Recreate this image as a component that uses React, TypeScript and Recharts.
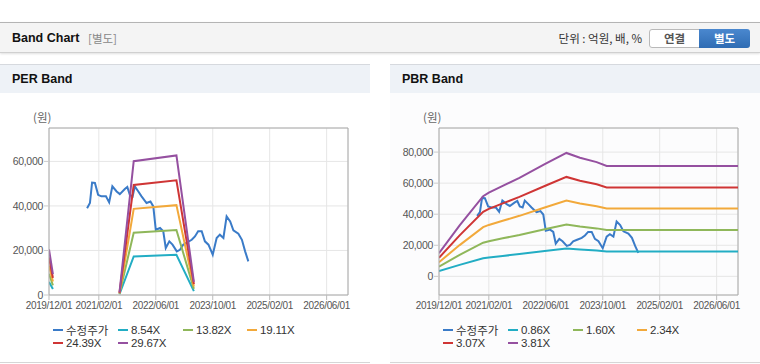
import React from 'react';
import { LineChart, Line, XAxis, YAxis, CartesianGrid, ReferenceLine } from 'recharts';

// ---------- data ----------
const xTickMonths = [0, 14, 30, 46, 62, 78];
const xTickLabels = ['2019/12/01', '2021/02/01', '2022/06/01', '2023/10/01', '2025/02/01', '2026/06/01'];

// month index since 2019/12
const priceMonths = [10.7, 11.5, 12.1, 12.9, 13.8, 14.7, 16.0, 16.9, 17.8, 19.0, 19.9, 21.3, 22.0, 22.7, 23.5, 24.1, 25.1, 26.0, 27.4, 28.5, 29.3, 30.0, 31.2, 32.1, 32.8, 33.8, 34.7, 35.9, 36.8, 37.7, 38.8, 40.1, 41.0, 41.9, 42.9, 43.8, 44.8, 46.0, 47.1, 48.0, 49.0, 49.9, 50.9, 51.8, 53.2, 54.2, 55.1, 56.0];
const priceValues = [39000, 41300, 50500, 50300, 45000, 44300, 44300, 41600, 48800, 46500, 45300, 47600, 48500, 45000, 44300, 48800, 46500, 44300, 41300, 42000, 39800, 29300, 30100, 28600, 21100, 24100, 22600, 19600, 20300, 22600, 23600, 24800, 26300, 28600, 28600, 24100, 22600, 18100, 25600, 27100, 25600, 35300, 33000, 29000, 27500, 24800, 19600, 15100];

const perBandMonths = [0, 1.1, 10, 19.8, 23.8, 35.8, 40.7];
const per854 = [5890, 2690, null, 340, 17290, 18040, 1710];
const per1382 = [9540, 4350, null, 550, 27990, 29190, 2760];
const per1911 = [13190, 6020, null, 760, 38700, 40360, 3820];
const per2439 = [16830, 7680, null, 980, 49390, 51510, 4880];
const per2967 = [20470, 9350, null, 1190, 60080, 62660, 5930];
const perLabels = ['8.54X', '13.82X', '19.11X', '24.39X', '29.67X'];
const perYTicks = [0, 20000, 40000, 60000];

const pbrBandMonths = [0, 5.8, 12.4, 14, 17.9, 22.6, 29.7, 35.8, 39.6, 44.3, 47.1, 84];
const pbr086 = [3350, 7400, 11650, 12170, 13160, 14320, 16300, 17930, 17240, 16600, 16040, 16040];
const pbr160 = [6240, 13760, 21680, 22640, 24480, 26640, 30320, 33360, 32080, 30880, 29840, 29840];
const pbr234 = [9130, 20120, 31710, 33110, 35800, 38960, 44340, 48790, 46920, 45160, 43640, 43640];
const pbr307 = [11970, 26400, 41600, 43440, 46970, 51120, 58180, 64010, 61550, 59250, 57260, 57260];
const pbr381 = [14860, 32770, 51630, 53910, 58290, 63440, 72200, 79440, 76390, 73530, 71060, 71060];
const pbrLabels = ['0.86X', '1.60X', '2.34X', '3.07X', '3.81X'];
const pbrYTicks = [0, 20000, 40000, 60000, 80000];

const priceLabel = '수정주가';

// ---------- styles ----------
const COLORS = ['#3a7bc8', '#22adc4', '#8fb75a', '#f2a93b', '#cf3535', '#9550a0'];
const FONT = "'Liberation Sans', Arial, sans-serif";
const KFONT = "'Noto Sans CJK KR', 'Liberation Sans', sans-serif";

type Pt = { m: number; v: number | null };
const toPts = (ms: number[], vs: (number | null)[]): Pt[] => ms.map((m, i) => ({ m, v: vs[i] }));

const pricePts = toPts(priceMonths, priceValues);

function Legend({ labels }: { labels: string[] }) {
  const all = [priceLabel, ...labels];
  const cols = [53, 118, 183, 247];
  return (
    <>
      {all.map((l, i) => {
        const row = Math.floor(i / 4);
        const col = i % 4;
        return (
          <div key={l} style={{ position: 'absolute', left: cols[col], top: 260 + row * 13, height: 12, display: 'flex', alignItems: 'center', whiteSpace: 'nowrap' }}>
            <div style={{ width: 10, height: 2, background: COLORS[i], marginRight: 3 }} />
            <span style={{ fontFamily: i === 0 ? KFONT : FONT, fontSize: i === 0 ? 11.5 : 11.5, lineHeight: '12px', color: '#333', letterSpacing: i === 0 ? 0 : -0.2 }}>{l}</span>
          </div>
        );
      })}
    </>
  );
}

function Panel(props: {
  left: number; title: string; bandMonths: number[]; bands: (number | null)[][]; labels: string[];
  yDomain: [number, number]; yTicks: number[]; bg: string;
}) {
  const { left, title, bandMonths, bands, labels, yDomain, yTicks, bg } = props;
  const xTickStyle = { fontFamily: FONT, fontSize: 10, fill: '#555', letterSpacing: -0.35 };
  const yTickStyle = { fontFamily: FONT, fontSize: 10.5, fill: '#555', letterSpacing: -0.3 };
  return (
    <div style={{ position: 'absolute', left, top: 64, width: 370, height: 300, background: bg }}>
      <div style={{ position: 'absolute', left: 0, top: 0, width: 370, height: 28, borderTop: '1px solid #d6d9de', background: '#eef2f7' }}>
        <div style={{ position: 'absolute', left: 12, top: 7, fontFamily: FONT, fontWeight: 'bold', fontSize: 12.5, color: '#111' }}>{title}</div>
      </div>
      <div style={{ position: 'absolute', left: 33, top: 45, fontFamily: KFONT, fontSize: 11.5, color: '#666' }}>(원)</div>
      <div style={{ position: 'absolute', left: 0, top: 36 }}>
        <LineChart width={370} height={215} margin={{ top: 28, right: 22, bottom: 0, left: 0 }}>
          <CartesianGrid stroke="#e6e6e6" strokeWidth={1} horizontal vertical />
          <XAxis dataKey="m" type="number" domain={[0, 84]} ticks={xTickMonths} allowDataOverflow
            tickFormatter={(v: number) => xTickLabels[xTickMonths.indexOf(v)] ?? ''}
            tick={xTickStyle} tickSize={5} tickMargin={2} height={20}
            axisLine={{ stroke: '#aaa' }} tickLine={{ stroke: '#bbb' }} interval={0} />
          <YAxis type="number" domain={yDomain} ticks={yTicks} allowDataOverflow width={49}
            tickFormatter={(v: number) => v.toLocaleString('en-US')}
            tick={yTickStyle} tickSize={5} tickMargin={1}
            axisLine={{ stroke: '#aaa' }} tickLine={{ stroke: '#ccc' }} interval={0} />
          <ReferenceLine x={84} stroke="#aaa" ifOverflow="visible" />
          <ReferenceLine y={yDomain[1]} stroke="#aaa" ifOverflow="visible" />
          <Line data={pricePts} dataKey="v" stroke={COLORS[0]} strokeWidth={2} dot={false} isAnimationActive={false} connectNulls={false} />
          {bands.map((b, i) => (
            <Line key={i} data={toPts(bandMonths, b)} dataKey="v" stroke={COLORS[i + 1]} strokeWidth={2} dot={false} isAnimationActive={false} connectNulls={false} />
          ))}
        </LineChart>
      </div>
      <Legend labels={labels} />
      <div style={{ position: 'absolute', left: 0, top: 298, width: 370, height: 1, background: '#d6d6d6' }} />
    </div>
  );
}

export default function App() {
  return (
    <div style={{ position: 'absolute', left: 0, top: 0, width: 760, height: 364, background: '#fff', overflow: 'hidden' }}>
      <div style={{ position: 'absolute', left: 0, top: 22, width: 760, height: 29, borderTop: '1px solid #b4b4b4', borderBottom: '1px solid #d0d0d0', background: '#f4f4f4', boxShadow: '0 1px 2px rgba(0,0,0,0.12)' }}>
        <div style={{ position: 'absolute', left: 12, top: 8, fontFamily: FONT, fontWeight: 'bold', fontSize: 12.5, color: '#111' }}>Band Chart</div>
        <div style={{ position: 'absolute', left: 88, top: 7, fontFamily: KFONT, fontSize: 11.5, color: '#888' }}>[별도]</div>
        <div style={{ position: 'absolute', right: 760 - 642, top: 7, fontFamily: KFONT, fontSize: 11.5, color: '#333', whiteSpace: 'nowrap' }}>단위 : 억원, 배, %</div>
        <div style={{ position: 'absolute', left: 649, top: 6, width: 49, height: 17, border: '1px solid #b9b9b9', borderRadius: '3px 0 0 3px', background: '#fff', fontFamily: KFONT, fontWeight: 'bold', fontSize: 11.5, color: '#555', textAlign: 'center', lineHeight: '17px' }}>연결</div>
        <div style={{ position: 'absolute', left: 699, top: 6, width: 51, height: 19, borderRadius: '0 3px 3px 0', background: 'linear-gradient(#4a88cf, #2f6cb3)', fontFamily: KFONT, fontWeight: 'bold', fontSize: 11.5, color: '#fff', textAlign: 'center', lineHeight: '19px' }}>별도</div>
      </div>
      <Panel left={0} title="PER Band" bandMonths={perBandMonths} bands={[per854, per1382, per1911, per2439, per2967]} labels={perLabels} yDomain={[0, 75000]} yTicks={perYTicks} bg="#fff" />
      <Panel left={390} title="PBR Band" bandMonths={pbrBandMonths} bands={[pbr086, pbr160, pbr234, pbr307, pbr381]} labels={pbrLabels} yDomain={[-12000, 95500]} yTicks={pbrYTicks} bg="#fcfcfd" />
    </div>
  );
}
